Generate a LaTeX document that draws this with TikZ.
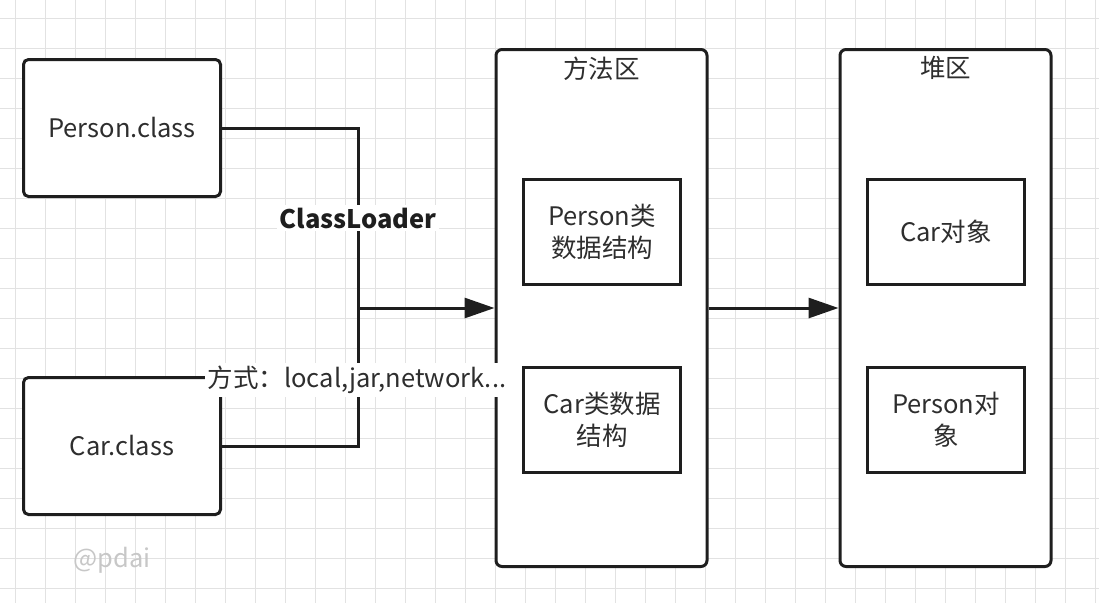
\documentclass[tikz,border=0pt]{standalone}
\usepackage{fontspec}
\setmainfont{Noto Sans CJK SC}
\usetikzlibrary{arrows.meta}
\definecolor{txtgray}{HTML}{2E2E2E}
\definecolor{linegray}{HTML}{1E1E1E}
\definecolor{gridgray}{HTML}{E2E2E2}
\tikzset{
  classbox/.style={draw=linegray, line width=3pt, rounded corners=5pt,
    minimum width=197pt, minimum height=137pt, text=txtgray},
  areabox/.style={draw=linegray, line width=3pt, rounded corners=6pt,
    minimum width=211pt, minimum height=517pt},
  databox/.style={draw=linegray, line width=3pt, minimum width=157pt,
    minimum height=105pt, align=center, text=txtgray},
  flow/.style={draw=linegray, line width=3pt},
  tip/.style={-{Triangle[length=30pt,width=20pt]}},
}
\begin{document}
\begin{tikzpicture}[x=1pt,y=-1pt,font=\fontsize{25.5}{32}\selectfont]
        \useasboundingbox (0,0) rectangle (1099,603);
        %% Grid
        \foreach \gx in {15,45,...,1095}
            \draw[gridgray,line width=1pt] (\gx,0) -- (\gx,603);
        \foreach \gy in {18,48,...,600}
            \draw[gridgray,line width=1pt] (0,\gy) -- (1099,\gy);
        %% Class files
        \node[classbox,fill=white] (person) at (122,128) {Person.class};
        \node[classbox,fill=white] (car) at (122,446) {Car.class};
        %% Method area
        \node[areabox,fill=white] (method) at (601.5,308) {};
        \node[anchor=north,yshift=-5pt,text=txtgray] (methodtitle) at (method.north) {方法区};
        \node[databox] (persondata) at (602,232) {Person类\\数据结构};
        \node[databox] (cardata) at (602,420) {Car类数据\\结构};
        %% Heap
        \node[areabox,fill=white] (heap) at (945.5,308) {};
        \node[anchor=north,yshift=-5pt,text=txtgray] (heaptitle) at (heap.north) {堆区};
        \node[databox] (carobj) at (946,232) {Car对象};
        \node[databox] (personobj) at (946,420) {Person对\\象};
        %% Loading
        \coordinate (bus) at (358,308);
        \draw[flow] (person.east) -| (bus) |- (car.east);
        \draw[flow,tip] (bus) -- (method.west);
        \draw[flow,tip] (method.east) -- (heap.west);
        \node[fill=white,inner sep=3pt,text=linegray,font=\fontsize{25.5}{32}\selectfont\bfseries] (loader) at (358,218) {ClassLoader};
        \node[fill=white,inner sep=3pt,text=txtgray] (mode) at (357,380) {方式：local,jar,network...};
        \node[text=black!22] (mark) at (112,560) {@pdai};
\end{tikzpicture}
\end{document}
